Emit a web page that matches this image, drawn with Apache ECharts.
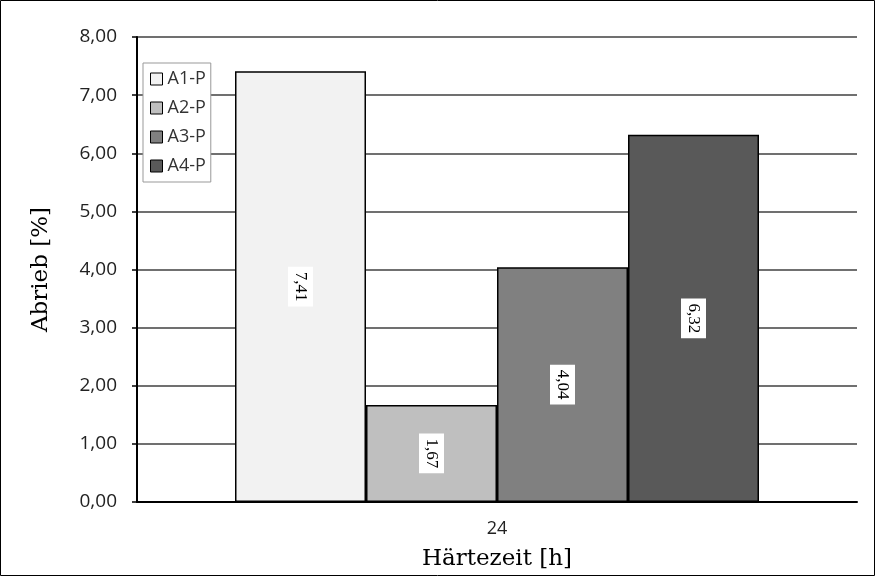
<!DOCTYPE html>
<html><head><meta charset="utf-8">
<script src="https://cdn.jsdelivr.net/npm/echarts@6/dist/echarts.min.js"></script>
<style>html,body{margin:0;padding:0;background:#fff}#c{width:875px;height:576px}</style>
</head><body><div id="c"></div>
<script>
const categories = ['24'];
const seriesNames = ['A1-P', 'A2-P', 'A3-P', 'A4-P'];
const seriesValues = [[7.41], [1.67], [4.04], [6.32]];
const colors = ['#f2f2f2', '#bfbfbf', '#808080', '#595959'];
const fmt = v => v.toFixed(2).replace('.', ',');

const chart = echarts.init(document.getElementById('c'), null, {renderer: 'canvas'});
chart.setOption({
  animation: false,
  backgroundColor: '#fff',
  graphic: [{type: 'rect', shape: {x: 0.5, y: 0.5, width: 874, height: 575}, style: {fill: 'none', stroke: '#000', lineWidth: 1}, silent: true}],
  grid: {left: 137, right: 18, top: 37, bottom: 74},
  legend: {
    orient: 'vertical', left: 143, top: 63,
    data: seriesNames,
    icon: 'rect',
    itemWidth: 12, itemHeight: 12, itemGap: 11,
    borderColor: '#999', borderWidth: 1, padding: [7, 5, 7, 7],
    backgroundColor: '#fff',
    textStyle: {fontFamily: 'Open Sans', fontSize: 18, color: '#333', padding: [0, 0, 0, 0]},
    itemStyle: {borderColor: '#000', borderWidth: 1}
  },
  xAxis: {
    type: 'category', data: categories,
    axisLine: {lineStyle: {color: '#000', width: 2}},
    axisTick: {show: false},
    axisLabel: {fontFamily: 'Open Sans', fontSize: 18, color: '#222', margin: 18},
    name: 'Härtezeit [h]', nameLocation: 'middle', nameGap: 46,
    nameTextStyle: {fontFamily: 'DejaVu Serif', fontSize: 23, color: '#000'}
  },
  yAxis: {
    type: 'value', min: 0, max: 8, interval: 1,
    axisLine: {show: true, lineStyle: {color: '#000', width: 2}},
    axisTick: {show: true, length: 5, lineStyle: {color: '#000', width: 1.5}},
    axisLabel: {fontFamily: 'Open Sans', fontSize: 19, color: '#222', margin: 20, formatter: v => fmt(v)},
    splitLine: {lineStyle: {color: '#404040', width: 1.5}},
    name: 'Abrieb [%]', nameLocation: 'middle', nameGap: 84,
    nameTextStyle: {fontFamily: 'DejaVu Serif', fontSize: 23, color: '#000'}
  },
  series: seriesNames.map((n, i) => ({
    name: n, type: 'bar', data: seriesValues[i],
    barWidth: 131, barGap: '0%',
    itemStyle: {color: colors[i], borderColor: '#000', borderWidth: 1.5},
    label: {
      show: true, position: 'inside', rotate: -90,
      formatter: p => fmt(p.value),
      fontFamily: 'Liberation Serif', fontSize: 17, color: '#000',
      backgroundColor: '#fff', padding: [4, 5, 4, 5]
    }
  }))
});
</script></body></html>
